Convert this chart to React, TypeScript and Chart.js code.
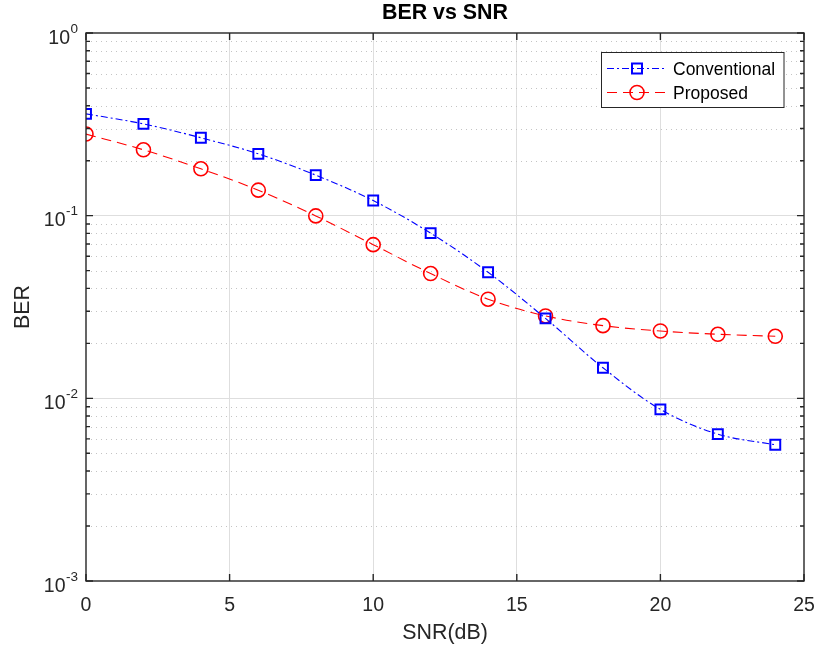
import React, { useEffect, useRef } from "react";
import { Chart, registerables } from "chart.js";

Chart.register(...registerables);

// ---- data ----
const snr = [0, 2, 4, 6, 8, 10, 12, 14, 16, 18, 20, 22, 24];
const conventional = [0.361, 0.318, 0.267, 0.218, 0.1667, 0.121, 0.0802, 0.049, 0.0274, 0.0147, 0.0087, 0.00637, 0.00557];
const proposed = [0.2797, 0.2294, 0.1805, 0.1379, 0.0997, 0.0694, 0.0482, 0.0349, 0.02825, 0.025, 0.02337, 0.02242, 0.02186];
const xTicks = [0, 5, 10, 15, 20, 25];
const yTickExps = [0, -1, -2, -3];
const seriesNames = ["Conventional", "Proposed"];
const titleText = "BER vs SNR";
const xLabel = "SNR(dB)";
const yLabel = "BER";

const AX = "#262626";
const FONT = "'Liberation Sans', Arial, Helvetica, sans-serif";
const BLUE = "#0000ff";
const RED = "#ff0000";
const BLUE_DASH = [7, 3, 2, 3];
const RED_DASH = [10, 6];

const matlabPlugin = {
  id: "matlabStyle",
  beforeDatasetsDraw(chart: any) {
    const { ctx, chartArea } = chart;
    const y = chart.scales.y;
    ctx.save();
    ctx.strokeStyle = "#c4c4c4";
    ctx.lineWidth = 1;
    ctx.setLineDash([1, 4]);
    for (let e = -3; e < 0; e++) {
      for (let k = 2; k <= 9; k++) {
        const py = Math.round(y.getPixelForValue(k * Math.pow(10, e))) + 0.5;
        ctx.beginPath();
        ctx.moveTo(chartArea.left, py);
        ctx.lineTo(chartArea.right, py);
        ctx.stroke();
      }
    }
    ctx.restore();
  },
  afterDatasetsDraw(chart: any) {
    const { ctx, chartArea } = chart;
    const { left, right, top, bottom } = chartArea;
    const x = chart.scales.x;
    const y = chart.scales.y;
    ctx.save();
    ctx.strokeStyle = AX;
    ctx.lineWidth = 1.4;
    ctx.setLineDash([]);
    ctx.beginPath();
    xTicks.forEach((v) => {
      const px = x.getPixelForValue(v);
      ctx.moveTo(px, bottom);
      ctx.lineTo(px, bottom - 7);
      ctx.moveTo(px, top);
      ctx.lineTo(px, top + 7);
    });
    for (let e = -3; e <= 0; e++) {
      const py = y.getPixelForValue(Math.pow(10, e));
      ctx.moveTo(left, py);
      ctx.lineTo(left + 7, py);
      ctx.moveTo(right, py);
      ctx.lineTo(right - 7, py);
      if (e < 0) {
        for (let k = 2; k <= 9; k++) {
          const pm = y.getPixelForValue(k * Math.pow(10, e));
          ctx.moveTo(left, pm);
          ctx.lineTo(left + 4, pm);
          ctx.moveTo(right, pm);
          ctx.lineTo(right - 4, pm);
        }
      }
    }
    ctx.stroke();
    ctx.strokeRect(left, top, right - left, bottom - top);
    ctx.restore();
  },
  afterDraw(chart: any) {
    const { ctx, chartArea } = chart;
    const { left, right, top, bottom } = chartArea;
    const x = chart.scales.x;
    const y = chart.scales.y;
    ctx.save();
    ctx.fillStyle = AX;
    ctx.font = `19.5px ${FONT}`;
    ctx.textAlign = "center";
    ctx.textBaseline = "alphabetic";
    xTicks.forEach((v) => {
      ctx.fillText(String(v), x.getPixelForValue(v), bottom + 30);
    });
    yTickExps.forEach((e) => {
      const py = y.getPixelForValue(Math.pow(10, e));
      const sup = e === 0 ? "0" : `-${-e}`;
      ctx.font = `13.5px ${FONT}`;
      const sw = ctx.measureText(sup).width;
      const rightEdge = left - 8;
      ctx.textAlign = "right";
      ctx.fillText(sup, rightEdge, py - 0.5);
      ctx.font = `19.5px ${FONT}`;
      ctx.fillText("10", rightEdge - sw - 0.5, py + 10.5);
    });
    ctx.font = `21.4px ${FONT}`;
    ctx.textAlign = "center";
    ctx.fillText(xLabel, (left + right) / 2, bottom + 58);
    ctx.save();
    ctx.translate(28.5, (top + bottom) / 2);
    ctx.rotate(-Math.PI / 2);
    ctx.fillText(yLabel, 0, 0);
    ctx.restore();
    ctx.font = `bold 21.4px ${FONT}`;
    ctx.fillStyle = "#000000";
    ctx.fillText(titleText, (left + right) / 2, 19);
    // legend
    const bx = 601.5, by = 52.5, bw = 182.5, bh = 55;
    ctx.fillStyle = "#ffffff";
    ctx.fillRect(bx, by, bw, bh);
    ctx.strokeStyle = AX;
    ctx.lineWidth = 1;
    ctx.strokeRect(bx, by, bw, bh);
    const rows = [
      { name: seriesNames[0], color: BLUE, dash: BLUE_DASH, marker: "rect", yy: 68.5 },
      { name: seriesNames[1], color: RED, dash: RED_DASH, marker: "circle", yy: 92.5 },
    ];
    rows.forEach((r) => {
      ctx.strokeStyle = r.color;
      ctx.lineWidth = 1;
      ctx.setLineDash(r.dash);
      ctx.beginPath();
      ctx.moveTo(607, r.yy);
      ctx.lineTo(667, r.yy);
      ctx.stroke();
      ctx.setLineDash([]);
      ctx.beginPath();
      if (r.marker === "rect") {
        ctx.lineWidth = 2;
        ctx.rect(637 - 5, r.yy - 5, 10, 10);
      } else {
        ctx.lineWidth = 1.6;
        ctx.arc(637, r.yy, 7, 0, Math.PI * 2);
      }
      ctx.stroke();
      ctx.fillStyle = "#000000";
      ctx.font = `17.5px ${FONT}`;
      ctx.textAlign = "left";
      ctx.fillText(r.name, 673, r.yy + 6.3);
    });
    ctx.restore();
  },
};

export default function App() {
  const ref = useRef<HTMLCanvasElement | null>(null);
  useEffect(() => {
    document.body.style.margin = "0";
    const canvas = ref.current;
    if (!canvas) return;
    const chart = new Chart(canvas, {
      type: "line",
      data: {
        datasets: [
          {
            label: seriesNames[0],
            data: snr.map((s, i) => ({ x: s, y: conventional[i] })),
            borderColor: BLUE,
            borderWidth: 1.1,
            borderDash: BLUE_DASH,
            pointStyle: "rect",
            pointRadius: 7,
            pointHoverRadius: 7,
            pointBorderWidth: 2,
            pointBorderColor: BLUE,
            pointBackgroundColor: "rgba(0,0,0,0)",
            cubicInterpolationMode: "monotone",
            fill: false,
          },
          {
            label: seriesNames[1],
            data: snr.map((s, i) => ({ x: s, y: proposed[i] })),
            borderColor: RED,
            borderWidth: 1.1,
            borderDash: RED_DASH,
            pointStyle: "circle",
            pointRadius: 7,
            pointHoverRadius: 7,
            pointBorderWidth: 1.6,
            pointBorderColor: RED,
            pointBackgroundColor: "rgba(0,0,0,0)",
            cubicInterpolationMode: "monotone",
            fill: false,
          },
        ],
      },
      options: {
        responsive: false,
        animation: false,
        events: [],
        layout: { padding: { top: 33, right: 11, left: 0, bottom: 0 } },
        plugins: {
          legend: { display: false },
          title: { display: false },
          tooltip: { enabled: false },
        },
        scales: {
          x: {
            type: "linear",
            min: 0,
            max: 25,
            ticks: { display: false, stepSize: 5 },
            border: { display: false },
            grid: {
              drawTicks: false,
              lineWidth: 1,
              color: (c: any) =>
                c.tick && (c.tick.value === 0 || c.tick.value === 25) ? "rgba(0,0,0,0)" : "#dedede",
            },
            afterFit: (s: any) => {
              s.height = 67;
            },
          },
          y: {
            type: "logarithmic",
            min: 0.001,
            max: 1,
            ticks: { display: false },
            border: { display: false },
            grid: {
              drawTicks: false,
              lineWidth: 1,
              color: (c: any) => {
                if (!c.tick) return "rgba(0,0,0,0)";
                const l = Math.log10(c.tick.value);
                const major = Math.abs(l - Math.round(l)) < 1e-6;
                if (!major || c.tick.value >= 1 || c.tick.value <= 0.001) return "rgba(0,0,0,0)";
                return "#dedede";
              },
            },
            afterFit: (s: any) => {
              s.width = 86;
            },
          },
        },
      },
      plugins: [matlabPlugin],
    } as any);
    return () => chart.destroy();
  }, []);
  return (
    <div style={{ width: 815, height: 648, background: "#ffffff" }}>
      <canvas ref={ref} width={815} height={648} style={{ display: "block" }} />
    </div>
  );
}
